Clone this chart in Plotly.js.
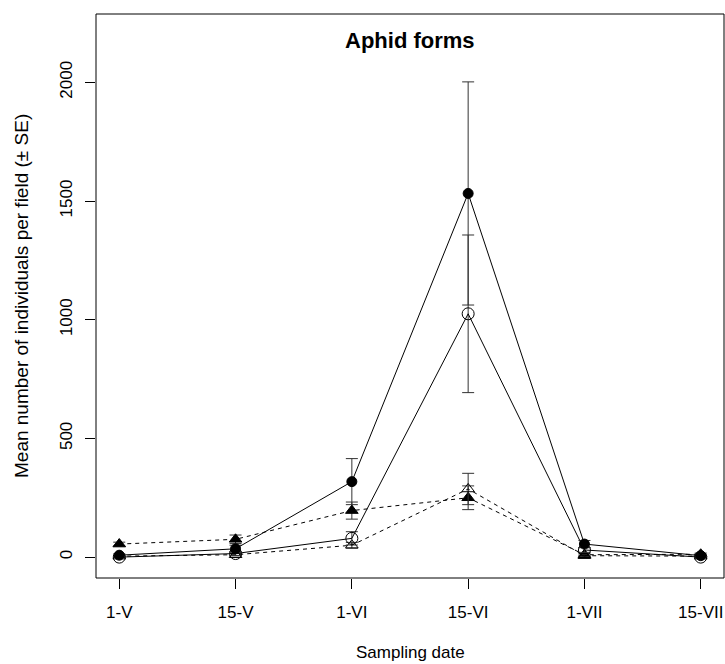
<!DOCTYPE html>
<html>
<head>
<meta charset="utf-8">
<script src="https://cdn.plot.ly/plotly-3.0.1.min.js"></script>
<style>html,body{margin:0;padding:0;background:#fff;}#chart{width:725px;height:664px;}</style>
</head>
<body>
<div id="chart"></div>
<script>
// Sampling dates (category positions 1..6)
const dates = ["1-V", "15-V", "1-VI", "15-VI", "1-VII", "15-VII"];
const datePos = [1, 2, 3, 4, 5, 6];

// Series means
const filledCircle = [8, 35, 318, 1532, 55, 6];
const openCircle = [0, 15, 79, 1025, 30, 0];
const filledTriangle = [55, 75, 196, 250, 10, 12];
const openTriangle = [4, 10, 50, 287, 6, 4];

// Standard errors
const filledCircleSE = [6, 15, 97, 470, 15, 4];
const openCircleSE = [2, 8, 28, 332, 10, 2];
const filledTriangleSE = [8, 18, 36, 50, 5, 5];
const openTriangleSE = [2, 5, 12, 66, 3, 2];

const yTicks = [0, 500, 1000, 1500, 2000];

const FONT = "Liberation Sans, Arial, Helvetica, sans-serif";

function trace(y, se, symbol, size, dash) {
  return {
    x: datePos, y: y, type: "scatter", mode: "lines+markers",
    line: {color: "#000", width: 1, dash: dash},
    marker: {symbol: symbol, size: size, color: "#000", line: {color: "#000", width: 1}},
    error_y: {type: "data", array: se, visible: true, color: "#333", thickness: 1, width: 6},
    showlegend: false, hoverinfo: "skip"
  };
}

const data = [
  trace(filledTriangle, filledTriangleSE, "triangle-up", 11, "4px,4px"),
  trace(openTriangle, openTriangleSE, "triangle-up-open", 11, "4px,4px"),
  trace(openCircle, openCircleSE, "circle-open", 12, "solid"),
  trace(filledCircle, filledCircleSE, "circle", 10, "solid")
];

const layout = {
  width: 725, height: 664,
  margin: {l: 96, r: 1, t: 14, b: 86, pad: 0},
  paper_bgcolor: "#fff", plot_bgcolor: "#fff",
  font: {family: FONT, size: 17, color: "#000"},
  xaxis: {
    range: [0.8, 6.2], tickvals: datePos, ticktext: dates,
    showgrid: false, zeroline: false, showline: false,
    ticks: "outside", ticklen: 10, tickwidth: 1, tickcolor: "#000",
    ticklabelstandoff: 9,
    tickfont: {family: FONT, size: 17, color: "#000"}
  },
  yaxis: {
    range: [-88, 2288], tickvals: yTicks,
    showgrid: false, zeroline: false, showline: false,
    ticks: "outside", ticklen: 10, tickwidth: 1, tickcolor: "#000",
    tickangle: -90, ticklabelstandoff: 6,
    tickfont: {family: FONT, size: 17, color: "#000"}
  },
  shapes: [{type: "rect", xref: "paper", yref: "paper", x0: 0, x1: 1, y0: 0, y1: 1,
            line: {color: "#000", width: 1}}],
  annotations: [
    {text: "<b>Aphid forms</b>", xref: "paper", yref: "paper", x: 0.5, y: 0.953,
     xanchor: "center", yanchor: "middle", showarrow: false,
     font: {family: FONT, size: 22, color: "#000"}},
    {text: "Sampling date", xref: "paper", yref: "paper", x: 0.5, y: 0, yshift: -74,
     xanchor: "center", yanchor: "middle", showarrow: false,
     font: {family: FONT, size: 17, color: "#000"}},
    {text: "Mean number of individuals per field (± SE)", xref: "paper", yref: "paper",
     x: 0, xshift: -75, y: 0.5, textangle: -90,
     xanchor: "center", yanchor: "middle", showarrow: false,
     font: {family: FONT, size: 19, color: "#000"}}
  ]
};

Plotly.newPlot("chart", data, layout, {displayModeBar: false, staticPlot: true});
</script>
</body>
</html>
